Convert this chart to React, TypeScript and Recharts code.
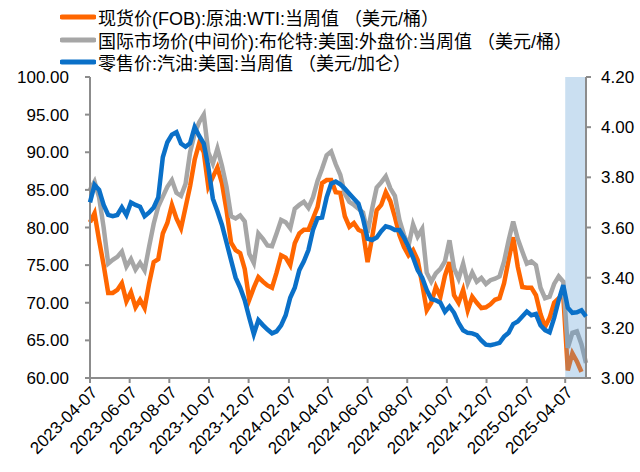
import React from "react"
import {
  Line,
  LineChart,
  ReferenceArea,
  XAxis,
  YAxis,
} from "recharts"

// weekly, starting 2023-04-07 (Fridays)
const startDate = "2023-04-07"

const wti = [
  80.7, 81.9, 78.3, 75.0, 71.3, 71.3, 71.7, 72.6, 70.2, 71.4, 69.4, 70.4, 69.3,
  72.6, 75.4, 75.8, 79.2, 80.6, 83.0, 81.2, 79.9, 82.7, 85.5, 89.0, 91.2, 90.0,
  85.4, 86.7, 88.0, 85.9, 82.3, 78.0, 77.0, 76.6, 74.5, 70.4, 72.0, 73.4, 72.8,
  72.3, 72.0, 74.0, 76.3, 76.0, 75.0, 77.9, 79.2, 79.7, 79.7, 81.2, 82.7, 85.9,
  86.3, 86.3, 84.7, 84.6, 81.5, 80.1, 80.6, 79.7, 79.4, 75.4, 78.7, 82.3, 83.0,
  84.7, 83.5, 81.4, 79.0, 77.4, 76.3, 77.0, 75.7, 72.5, 69.0, 70.0, 72.1, 70.8,
  73.6, 75.4, 71.0, 70.0, 71.7, 69.0, 70.8, 70.0, 69.3, 69.4, 69.8, 70.4, 70.6,
  72.6, 75.7, 78.7, 74.8, 72.1, 72.0, 72.0, 71.0, 68.5, 66.8, 68.0, 70.0, 70.6,
  71.0, 61.0, 63.3, 62.2, 60.8,
]

const brent = [
  85.0, 86.1, 84.0, 80.0, 75.2, 75.7, 76.1, 76.8, 74.8, 75.8, 74.4, 75.3, 74.3,
  77.5, 80.5, 82.8, 84.1, 85.4, 86.3, 84.6, 84.2, 85.8, 90.0, 92.5, 94.0, 95.0,
  90.0, 88.5, 90.5, 88.2, 85.4, 81.5, 81.2, 81.6, 80.8, 76.5, 75.3, 79.2, 78.5,
  77.6, 77.5, 79.2, 81.0, 80.7, 79.9, 82.5, 83.0, 83.4, 82.6, 84.0, 86.2, 87.8,
  89.6, 90.1, 88.4, 87.0, 84.5, 83.4, 83.0, 82.5, 82.0, 79.3, 82.5, 85.3, 86.0,
  86.8, 85.2, 84.2, 81.0, 79.0, 77.6, 80.4, 78.8, 79.8, 74.0, 72.8, 73.9, 74.5,
  75.5, 78.3, 74.6, 73.2, 75.2, 72.6, 74.0, 72.8, 73.3, 72.5, 73.0, 73.2, 73.5,
  75.5, 78.3, 80.8, 78.5, 76.8, 75.2, 75.5, 75.0, 72.0, 70.6, 70.8, 72.5, 73.5,
  72.8, 64.0, 66.0, 66.2, 64.5, 62.0,
]

const gasoline = [
  3.7, 3.77, 3.75, 3.69, 3.65, 3.645, 3.65, 3.68, 3.65, 3.7, 3.69, 3.683, 3.645,
  3.66, 3.68, 3.72, 3.88, 3.94, 3.97, 3.98, 3.935, 3.922, 3.936, 4.0, 3.965,
  3.935, 3.842, 3.715, 3.665, 3.61, 3.54, 3.47, 3.4, 3.36, 3.31, 3.24, 3.175,
  3.231, 3.211, 3.193, 3.178, 3.186, 3.21, 3.25, 3.32, 3.36, 3.43, 3.465, 3.51,
  3.59, 3.637, 3.64, 3.72, 3.775, 3.783, 3.772, 3.755, 3.735, 3.715, 3.695,
  3.635, 3.555, 3.55, 3.56, 3.585, 3.605, 3.6, 3.59, 3.59, 3.56, 3.523, 3.48,
  3.43, 3.4, 3.351, 3.315, 3.31, 3.3, 3.264, 3.285, 3.26, 3.22, 3.19, 3.18,
  3.178, 3.171, 3.15, 3.133, 3.131, 3.135, 3.14, 3.165, 3.18, 3.215, 3.225,
  3.245, 3.265, 3.25, 3.255, 3.21, 3.191, 3.182, 3.24, 3.31, 3.37, 3.28, 3.26,
  3.262, 3.27, 3.245,
]

const xTickLabels = [
  "2023-04-07", "2023-06-07", "2023-08-07", "2023-10-07", "2023-12-07",
  "2024-02-07", "2024-04-07", "2024-06-07", "2024-08-07", "2024-10-07",
  "2024-12-07", "2025-02-07", "2025-04-07",
]
const leftTicks = [60, 65, 70, 75, 80, 85, 90, 95, 100]
const rightTicks = [3.0, 3.2, 3.4, 3.6, 3.8, 4.0, 4.2]
const bandStart = "2025-04-07"

const names = [
  "现货价(FOB):原油:WTI:当周值 （美元/桶）",
  "国际市场价(中间价):布伦特:美国:外盘价:当周值 （美元/桶）",
  "零售价:汽油:美国:当周值 （美元/加仑）",
]
const colors = ["#FF6600", "#A6A6A6", "#0A70C8"]

const WEEK = 7 * 24 * 3600 * 1000
const t0 = Date.parse(startDate)
const data = brent.map((b, i) => ({
  t: t0 + i * WEEK,
  wti: i < wti.length ? wti[i] : null,
  brent: b,
  gasoline: gasoline[i],
}))
const tEnd = data[data.length - 1].t

const fmtDate = (v: number) => new Date(v).toISOString().slice(0, 10)
const font = '"Liberation Sans", Arial, "Noto Sans CJK SC", sans-serif'
const axisColor = "#8C8C8C"
const tickStyle = { fill: "#000", fontSize: 17, fontFamily: font }

// legend drawn as plain html above the plot, so it takes no room from it
const LegendBox = () => (
  <div
    style={{
      position: "absolute",
      left: 60,
      top: 6,
      fontFamily: font,
      fontSize: 18,
      color: "#000",
    }}
  >
    {names.map((n, i) => (
      <div
        key={n}
        style={{ display: "flex", alignItems: "center", height: 22.5, whiteSpace: "nowrap" }}
      >
        <svg width={36} height={8} style={{ marginRight: 2 }}>
          <line x1={2} y1={4} x2={34} y2={4} stroke={colors[i]} strokeWidth={5} strokeLinecap="round" />
        </svg>
        <span>{n}</span>
      </div>
    ))}
  </div>
)

export default function App() {
  return (
    <div style={{ position: "absolute", left: 0, top: 0, width: 640, height: 472, background: "#fff" }}>
      <LineChart
        width={640}
        height={472}
        data={data}
        margin={{ top: 77, right: 0, bottom: 0, left: 0 }}
      >
        <XAxis
          type="number"
          dataKey="t"
          domain={[t0, tEnd]}
          ticks={xTickLabels.map((d) => Date.parse(d))}
          tickFormatter={fmtDate}
          interval={0}
          angle={-45}
          textAnchor="end"
          height={94}
          stroke={axisColor}
          strokeWidth={2}
          tickSize={5}
          tick={tickStyle}
        />
        <YAxis
          yAxisId="left"
          domain={[60, 100]}
          ticks={leftTicks}
          tickFormatter={(v: number) => v.toFixed(2)}
          width={90}
          stroke={axisColor}
          strokeWidth={2}
          tickSize={5}
          tickMargin={16}
          tick={tickStyle}
        />
        <YAxis
          yAxisId="right"
          orientation="right"
          domain={[3, 4.2]}
          ticks={rightTicks}
          tickFormatter={(v: number) => v.toFixed(2)}
          width={54}
          stroke={axisColor}
          strokeWidth={2}
          tickSize={5}
          tickMargin={10}
          tick={tickStyle}
        />
        <Line
          yAxisId="left"
          dataKey="wti"
          name={names[0]}
          stroke={colors[0]}
          strokeWidth={4.5}
          dot={false}
          type="linear"
          isAnimationActive={false}
        />
        <Line
          yAxisId="left"
          dataKey="brent"
          name={names[1]}
          stroke={colors[1]}
          strokeWidth={4.5}
          dot={false}
          type="linear"
          isAnimationActive={false}
        />
        <ReferenceArea
          yAxisId="right"
          x1={Date.parse(bandStart)}
          x2={tEnd}
          y1={3}
          y2={4.2}
          fill="#5B9BD5"
          fillOpacity={0.32}
          stroke="none"
          zIndex={450}
        />
        <Line
          yAxisId="right"
          dataKey="gasoline"
          name={names[2]}
          stroke={colors[2]}
          strokeWidth={4.5}
          dot={false}
          type="linear"
          isAnimationActive={false}
          zIndex={500}
        />
      </LineChart>
      <LegendBox />
    </div>
  )
}
